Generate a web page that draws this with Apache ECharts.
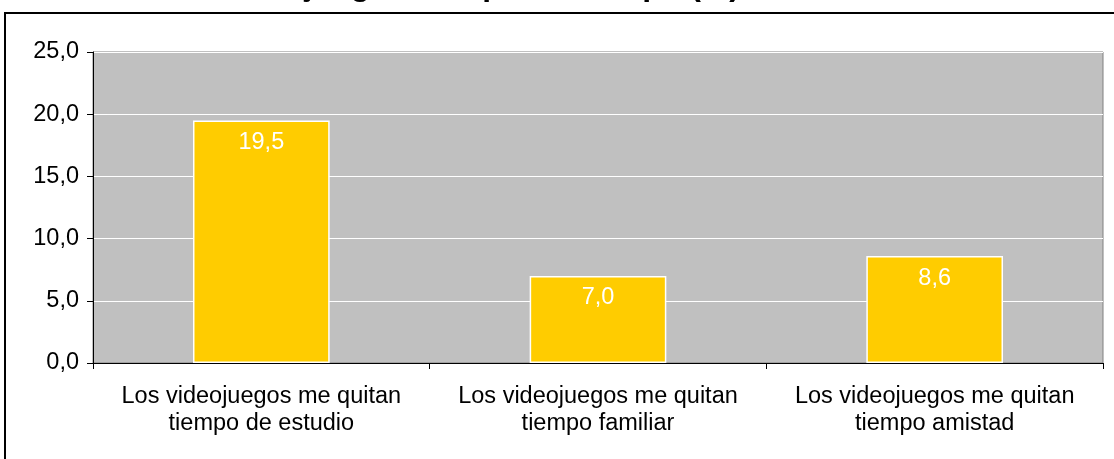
<!DOCTYPE html>
<html>
<head>
<meta charset="utf-8">
<script src="https://cdn.jsdelivr.net/npm/echarts@6/dist/echarts.min.js"></script>
<style>
  html, body { margin: 0; padding: 0; background: #fff; }
  #chart { width: 1114px; height: 459px; }
</style>
</head>
<body>
<div id="chart"></div>
<script>
// datos del grafico
var titulo = 'Los videojuegos me quitan tiempo (%)';
var categorias = [
  'Los videojuegos me quitan\ntiempo de estudio',
  'Los videojuegos me quitan\ntiempo familiar',
  'Los videojuegos me quitan\ntiempo amistad'
];
var valores = [19.5, 7.0, 8.6];
var ejeY = { min: 0, max: 25, interval: 5 };

// formato con coma decimal
function coma(v) {
  return Number(v).toFixed(1).replace('.', ',');
}

var fuente = '"Liberation Sans", Arial, sans-serif';
var myChart = echarts.init(document.getElementById('chart'));
var option = {
  animation: false,
  backgroundColor: '#fff',
  title: {
    text: titulo,
    left: 155,
    top: -30,
    padding: 0,
    textStyle: {
      fontFamily: fuente,
      fontWeight: 'bold',
      fontSize: 32,
      color: '#000'
    }
  },
  graphic: [
    {
      type: 'rect',
      shape: { x: 5, y: 13, width: 1130, height: 470 },
      style: { fill: 'none', stroke: '#000', lineWidth: 2 },
      silent: true
    }
  ],
  grid: {
    left: 93,
    right: 11,
    top: 52,
    bottom: 96,
    show: true,
    backgroundColor: '#C0C0C0',
    borderColor: '#808080',
    borderWidth: 1
  },
  xAxis: {
    type: 'category',
    data: categorias,
    axisLine: { show: true, lineStyle: { color: '#000', width: 1 } },
    axisTick: { show: true, length: 6, lineStyle: { color: '#000' } },
    axisLabel: {
      fontFamily: fuente,
      fontSize: 23.5,
      color: '#000',
      lineHeight: 27,
      margin: 20,
      interval: 0
    }
  },
  yAxis: {
    type: 'value',
    min: ejeY.min,
    max: ejeY.max,
    interval: ejeY.interval,
    axisLine: { show: true, lineStyle: { color: '#000', width: 1 } },
    axisTick: { show: true, length: 6, lineStyle: { color: '#000' } },
    axisLabel: {
      fontFamily: fuente,
      fontSize: 23.5,
      color: '#000',
      margin: 14,
      formatter: coma
    },
    splitLine: { show: true, lineStyle: { color: '#fff', width: 1 } }
  },
  series: [
    {
      type: 'bar',
      data: valores,
      barWidth: '40.6%',
      itemStyle: {
        color: '#FFCC00',
        borderColor: '#fff',
        borderWidth: 1.5
      },
      label: {
        show: true,
        position: 'insideTop',
        distance: 10,
        fontFamily: fuente,
        fontSize: 23.5,
        color: '#fff',
        formatter: function (p) { return coma(p.value); }
      }
    }
  ]
};
myChart.setOption(option);
</script>
</body>
</html>
